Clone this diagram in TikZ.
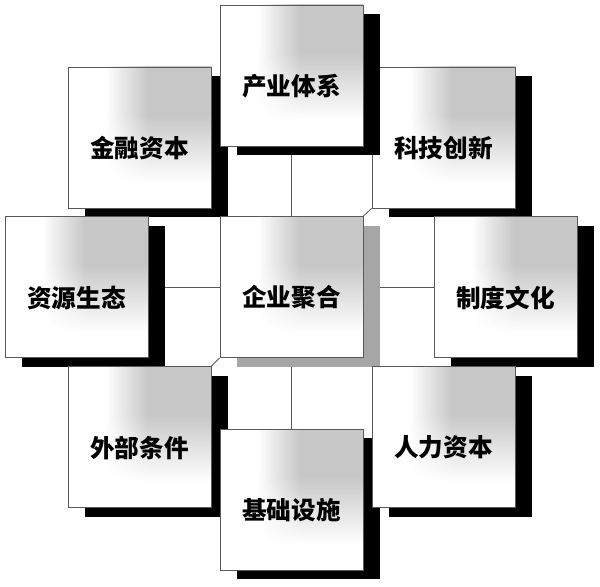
\documentclass[tikz,border=0pt]{standalone}
\usepackage{fontspec}
\newfontfamily\cjk{Noto Sans CJK SC}
\usetikzlibrary{shadows, backgrounds}

% white on the left and at the bottom, grey towards the upper right
% (the path covers the middle 25bp--75bp of the shading)
\pgfdeclarefunctionalshading{boxfill}{\pgfpointorigin}{\pgfpoint{100bp}{100bp}}{}{
  exch 38 sub 15 div
  dup abs exch 1 sub abs sub 1 add 2 div
  exch 34 sub 24 div
  dup abs exch 1 sub abs sub 1 add 2 div
  mul 0.22 mul neg 1 add
  dup dup
}

\tikzset{
  panel/.style={draw=black!65, line width=0.7pt, fill=white, minimum width=4.29cm, minimum height=4.23cm, inner sep=0pt,
    path picture={\shade[shading=boxfill] (path picture bounding box.south west) rectangle (path picture bounding box.north east);}},
  box/.style={panel, drop shadow={shadow xshift=0.51cm, shadow yshift=-0.27cm, fill=black, opacity=1}},
  hub/.style={panel, drop shadow={shadow xshift=0.51cm, shadow yshift=-0.27cm, fill=black!35, opacity=1}},
  tag/.style={font=\cjk\bfseries\fontsize{21pt}{21pt}\selectfont, inner sep=0pt},
  link/.style={draw=black!65, line width=0.7pt}
}

\begin{document}
\begin{tikzpicture}[x=0.03cm, y=-0.03cm]
    \useasboundingbox (0,0) rectangle (600,586);

    % outer ring, back to front
    \node[box] (keji) at (443.5,137.5) {};
    \node[tag] (keji-t) at ([yshift=-9pt]keji.center) {科技创新};
    \node[box] (jinrong) at (139.5,137.5) {};
    \node[tag] (jinrong-t) at ([yshift=-9pt]jinrong.center) {金融资本};
    \node[box] (chanye) at (291.5,75.5) {};
    \node[tag] (chanye-t) at ([yshift=-9pt]chanye.center) {产业体系};
    \node[box] (ziyuan) at (76.5,287) {};
    \node[tag] (ziyuan-t) at ([yshift=-9pt]ziyuan.center) {资源生态};

    % centre
    \node[hub] (qiye) at (291.5,287) {};
    \node[tag] (qiye-t) at ([yshift=-9pt]qiye.center) {企业聚合};

    \node[box] (zhidu) at (505.5,287) {};
    \node[tag] (zhidu-t) at ([yshift=-9pt]zhidu.center) {制度文化};
    \node[box] (waibu) at (139.5,437) {};
    \node[tag] (waibu-t) at ([yshift=-9pt]waibu.center) {外部条件};
    \node[box] (jichu) at (291.5,499.5) {};
    \node[tag] (jichu-t) at ([yshift=-9pt]jichu.center) {基础设施};
    \node[box] (renli) at (443.5,437) {};
    \node[tag] (renli-t) at ([yshift=-9pt]renli.center) {人力资本};

    % links from the centre, behind the boxes
    \begin{scope}[on background layer]
        \draw[link] (qiye.north) -- (chanye.south);
        \draw[link] (qiye.south) -- (jichu.north);
        \draw[link] (qiye.west) -- (ziyuan.east);
        \draw[link] (qiye.east) -- (zhidu.west);
        \draw[link] (qiye.north west) -- (jinrong.south east);
        \draw[link] (qiye.north east) -- (keji.south west);
        \draw[link] (qiye.south west) -- (waibu.north east);
        \draw[link] (qiye.south east) -- (renli.north west);
    \end{scope}
\end{tikzpicture}
\end{document}
